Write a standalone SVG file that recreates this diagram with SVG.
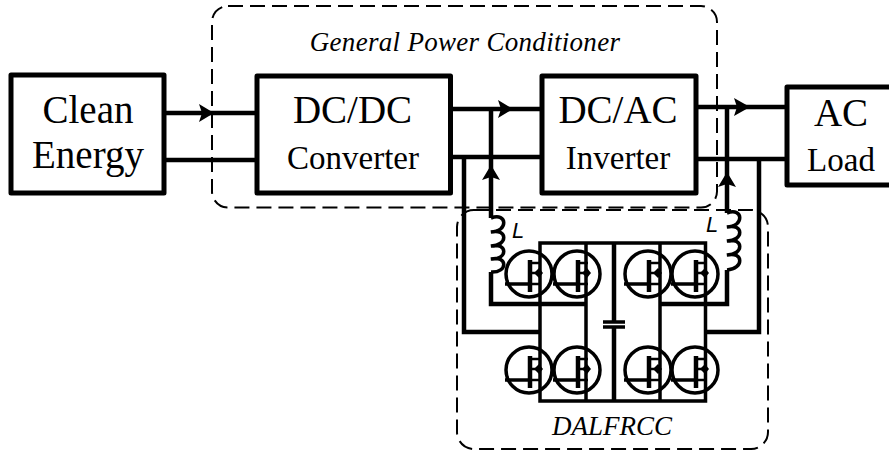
<svg xmlns="http://www.w3.org/2000/svg" width="889" height="452" viewBox="0 0 889 452">
<style>
.box{fill:#fff;stroke:#000;stroke-width:5;stroke-linejoin:round}
.w{fill:none;stroke:#000;stroke-width:4.500}
.t{fill:none;stroke:#000;stroke-width:3.500}
.d{fill:none;stroke:#000;stroke-width:2;stroke-dasharray:15 7}
text{font-family:"Liberation Serif","Times New Roman",serif;fill:#000;text-anchor:middle}
.big{font-size:39px}.mid{font-size:33px}.it{font-style:italic;font-size:27px}
.l{font-family:"Liberation Sans",Arial,sans-serif;font-style:italic;font-size:22px}
</style>
<defs>
<g id="fet">
<circle cx="0" cy="0" r="23" fill="none" stroke="#000" stroke-width="3.500"/>
<path d="M-24 10H1" class="t"/>
<path d="M1 -14V18" fill="none" stroke="#000" stroke-width="4.500"/>
<path d="M1 -11H11M3 10H11" fill="none" stroke="#000" stroke-width="2.500"/>
<path d="M3 -1H12" fill="none" stroke="#000" stroke-width="2.500"/>
<path d="M5 -1L10 -6L14 -1L10 4Z" fill="#000"/>
</g>
</defs>
<g id="dashed-regions">
<rect id="general-power-conditioner" x="212" y="6" width="505" height="201.500" rx="16" class="d"/>
<rect id="dalfrcc-region" x="457" y="210" width="311" height="239" rx="17" class="d"/>
</g>
<g id="connectors">
<path class="w" d="M164 113H257M164 160H257M451 109H542M451 157H542M696 107H787M696 159H787"/>
<path class="w" d="M491 109V218M491 272V304H586"/>
<path class="w" d="M464 157V332H540"/>
<path class="w" d="M727 107V213M727 270V304H660"/>
<path class="w" d="M759 159V332H705"/>
<path class="t" d="M491 218c17 -6 17 14 0 14c17 -4 17 14 0 14c17 -4 17 14 0 13c17 -4 17 14 0 13"/>
<path class="t" d="M727 213c17 -6 17 14 0 14c17 -4 17 14 0 14c17 -4 17 14 0 14c17 -4 17 14 0 15"/>
<path d="M199 104L214 113L199 122L202 113Z"/>
<path d="M498 100L513 109L498 118L501 109Z"/>
<path d="M734 98L750 107L734 116L737 107Z"/>
<path d="M491 165L500 180L491 177L482 180Z"/>
<path d="M727 172L736 187L727 184L718 187Z"/>
</g>
<g id="clean-energy">
<rect class="box" x="11" y="75" width="153" height="118"/>
<text class="big" x="88" y="123">Clean</text>
<text class="big" x="88" y="168">Energy</text>
</g>
<g id="dc-dc-converter">
<rect class="box" x="257" y="76" width="193.500" height="117"/>
<text class="big" x="352.500" y="123">DC/DC</text>
<text class="mid" x="353" y="169">Converter</text>
</g>
<g id="dc-ac-inverter">
<rect class="box" x="542" y="76" width="154" height="117"/>
<text class="big" x="618" y="123">DC/AC</text>
<text class="mid" x="618" y="169">Inverter</text>
</g>
<g id="ac-load">
<rect class="box" x="787" y="87" width="106" height="98"/>
<text class="big" x="841" y="126">AC</text>
<text class="mid" x="841" y="171">Load</text>
</g>
<g id="dalfrcc">
<path class="t" d="M540 243H705.500V401H540ZM586 243V401M660 243V401"/>
<path class="w" d="M614 243V322M614 327V401"/>
<path d="M603 322H625M603 327H625" fill="none" stroke="#000" stroke-width="3.500"/>
<use href="#fet" x="529" y="274"/>
<use href="#fet" x="577" y="274"/>
<use href="#fet" x="648" y="274"/>
<use href="#fet" x="695" y="274"/>
<use href="#fet" x="529" y="370"/>
<use href="#fet" x="577" y="370"/>
<use href="#fet" x="648" y="370"/>
<use href="#fet" x="695" y="370"/>
<text class="it" x="612" y="435">DALFRCC</text>
</g>
<text class="it" x="465" y="51" style="letter-spacing:.3px">General Power Conditioner</text>
<text class="l" x="518" y="238">L</text>
<text class="l" x="712" y="232">L</text>
</svg>
